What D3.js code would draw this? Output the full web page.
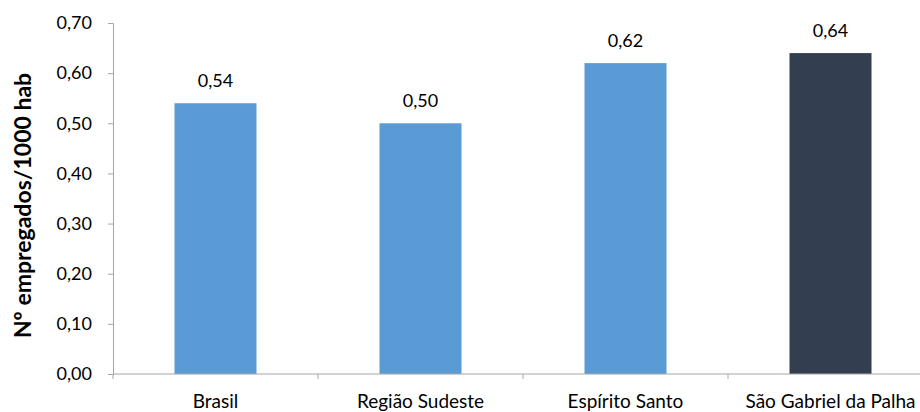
<!DOCTYPE html>
<html>
<head>
<meta charset="utf-8">
<script src="https://cdn.jsdelivr.net/npm/d3@7"></script>
<style>
  html, body { margin: 0; padding: 0; background: #fff; }
  svg { display: block; font-family: Lato, "Open Sans", sans-serif; }
</style>
</head>
<body>
<svg id="chart" width="920" height="412"></svg>
<script>
// Employees per 1000 inhabitants by region
const categories = ["Brasil", "Região Sudeste", "Espírito Santo", "São Gabriel da Palha"];
const values = [0.54, 0.50, 0.62, 0.64];
const barColors = ["#5B9BD5", "#5B9BD5", "#5B9BD5", "#333F50"];
const yTicks = [0, 0.1, 0.2, 0.3, 0.4, 0.5, 0.6, 0.7];
const yTitle = "Nº empregados/1000 hab";

const svg = d3.select("#chart");
const plotLeft = 113, plotRight = 933, plotTop = 23, plotBottom = 374;
const fontSize = 18;

const fmt = v => d3.format(".2f")(v).replace(".", ",");

const x = d3.scaleBand().domain(categories).range([plotLeft, plotRight]);
const y = d3.scaleLinear().domain([0, 0.7]).range([plotBottom, plotTop]);

const axisColor = "#A6A6A6";

// Bars
const bw = x.bandwidth() * 0.4;
svg.append("g").selectAll("rect")
  .data(categories)
  .join("rect")
  .attr("x", (c) => x(c) + (x.bandwidth() - bw) / 2)
  .attr("y", (c, i) => y(values[i]))
  .attr("width", bw)
  .attr("height", (c, i) => plotBottom - y(values[i]))
  .attr("fill", (c, i) => barColors[i]);

// Value labels
svg.append("g").selectAll("text")
  .data(categories)
  .join("text")
  .attr("x", (c) => x(c) + x.bandwidth() / 2)
  .attr("y", (c, i) => y(values[i]) - 16)
  .attr("text-anchor", "middle")
  .attr("font-size", fontSize)
  .attr("fill", "#000")
  .text((c, i) => fmt(values[i]));

// Y axis
const yAxis = svg.append("g")
  .attr("transform", `translate(${plotLeft},0)`)
  .call(d3.axisLeft(y).tickValues(yTicks).tickFormat(fmt).tickSize(5).tickPadding(16));
yAxis.select(".domain").attr("stroke", axisColor);
yAxis.selectAll(".tick line").attr("stroke", axisColor);
yAxis.selectAll(".tick text").attr("font-size", fontSize).attr("fill", "#000")
  .attr("font-family", "Lato, sans-serif");

// X axis: ticks sit on category boundaries
const xAxis = svg.append("g").attr("transform", `translate(0,${plotBottom})`);
xAxis.append("line")
  .attr("x1", plotLeft).attr("x2", plotRight).attr("y1", 0).attr("y2", 0)
  .attr("stroke", axisColor);
xAxis.selectAll("line.tk")
  .data(categories)
  .join("line")
  .attr("class", "tk")
  .attr("x1", c => x(c)).attr("x2", c => x(c))
  .attr("y1", 0).attr("y2", 5)
  .attr("stroke", axisColor);
xAxis.selectAll("text")
  .data(categories)
  .join("text")
  .attr("x", c => x(c) + x.bandwidth() / 2)
  .attr("y", 34)
  .attr("text-anchor", "middle")
  .attr("font-size", 19)
  .attr("fill", "#000")
  .text(c => c);

// Y axis title
svg.append("text")
  .attr("transform", `translate(31,205.5) rotate(-90)`)
  .attr("text-anchor", "middle")
  .attr("font-size", 23)
  .attr("font-weight", "bold")
  .attr("fill", "#000")
  .text(yTitle);
</script>
</body>
</html>
